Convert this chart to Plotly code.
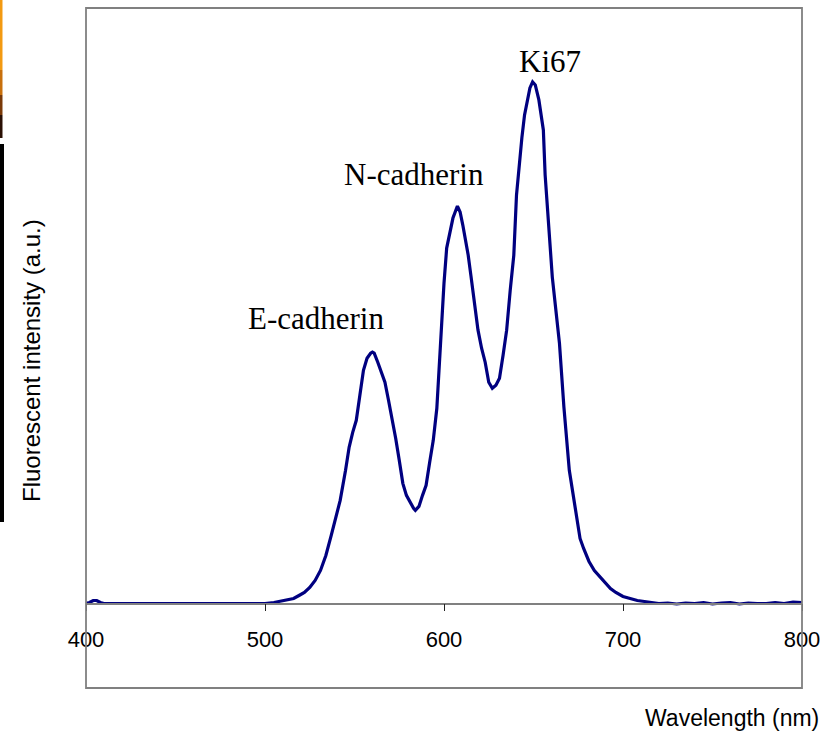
import plotly.graph_objects as go

# ---- data ----
wavelength = [400, 402, 404, 406, 408, 410, 420, 440, 460, 480, 500, 505, 508, 512, 516, 519,
              522, 525, 528, 531, 534, 537, 540, 542, 545, 547, 549, 551, 553, 555, 557, 559,
              560, 561, 563, 565, 567, 569, 571, 573, 575, 577, 579, 581, 583, 584, 586, 588,
              590, 592, 594, 596, 598, 600, 601.5, 603, 605, 607.5, 609, 610.5, 612, 613.5,
              615, 617, 619, 621, 623, 625, 627, 629, 631, 633, 635, 637, 639, 640.5, 642,
              643.5, 645, 646.5, 648, 649.5, 651, 653, 655.5, 656.5, 658, 660.5, 664.5, 667,
              670, 672.5, 676, 678, 681, 684, 687, 690, 693, 696, 700, 704, 708, 712, 716,
              720, 725, 730, 735, 740, 745, 750, 755, 760, 765, 770, 775, 780, 785, 790, 795, 800]
intensity = [0, 1, 3, 3, 1, 0, 0, 0, 0, 0, 0, 1, 2, 3, 5, 8,
             11, 16, 23, 33, 48, 68, 88, 103, 133, 156, 171, 183, 208, 233, 245, 250,
             251, 250, 241, 231, 221, 203, 185, 165, 143, 120, 108, 101, 95, 93, 97, 108,
             118, 141, 163, 195, 260, 320, 355, 368, 385, 397, 391, 378, 363, 348,
             328, 298, 273, 255, 241, 221, 215, 218, 225, 248, 273, 313, 348, 408, 438,
             465, 488, 503, 515, 521, 518, 503, 473, 428, 393, 326, 260, 196,
             133, 103, 65, 55, 42, 33, 27, 20, 15, 11, 7, 5, 3, 2, 1,
             0, 0.5, -0.5, 0.5, 0, 1, -0.5, 0.5, 1, -0.5, 0.5, 0, 0, 1, 0, 1.5, 1]

peak_labels = ["E-cadherin", "N-cadherin", "Ki67"]
peak_label_x = [528.6, 583.3, 659.2]
peak_label_y = [285, 429, 541]

x_ticks = [400, 500, 600, 700, 800]
x_range = [400, 800]
y_range = [-84.4, 594.8]

x_title = "Wavelength (nm)"
y_title = "Fluorescent intensity (a.u.)"

fig = go.Figure()
fig.add_trace(go.Scatter(
    x=wavelength, y=intensity, mode="lines",
    line=dict(color="#000080", width=3.2),
    hoverinfo="skip", showlegend=False,
))

axis_pos = -y_range[0] / (y_range[1] - y_range[0])

fig.update_layout(
    width=837, height=735, autosize=False,
    margin=dict(l=86, r=35, t=8, b=47, pad=0),
    paper_bgcolor="white", plot_bgcolor="white",
    showlegend=False,
    xaxis=dict(
        range=x_range, tickvals=x_ticks, ticktext=[str(v) for v in x_ticks],
        ticks="outside", ticklen=7, tickwidth=1, tickcolor="#222222",
        showline=True, linecolor="#808080", linewidth=1.5,
        showgrid=False, zeroline=False,
        anchor="free", position=axis_pos,
        tickfont=dict(family="Arial, Liberation Sans, sans-serif", size=22, color="black"),
        ticklabelstandoff=9,
    ),
    yaxis=dict(
        range=y_range, showticklabels=False, ticks="", showgrid=False,
        zeroline=False, showline=False,
    ),
)

# frame around plot area
fig.add_shape(type="rect", xref="paper", yref="paper", x0=0, x1=1, y0=0, y1=1,
              line=dict(color="#808080", width=1.8), fillcolor="rgba(0,0,0,0)", layer="above")

# left-edge artifact strips
def px_x(p):
    return (p - 86) / 716.0

def px_y(p):
    return (688 - p) / 680.0

strips = [
    (0, 2.5, 0, 70, "#F39A12"),
    (0, 2.5, 70, 95, "#C8700C"),
    (0, 2.5, 95, 115, "#7A3A08"),
    (0, 2.5, 115, 138, "#2A1004"),
    (0, 4, 144, 522, "#000000"),
]
for x0, x1, y0, y1, c in strips:
    fig.add_shape(type="rect", xref="paper", yref="paper",
                  x0=px_x(x0), x1=px_x(x1), y0=px_y(y1), y1=px_y(y0),
                  line=dict(width=0), fillcolor=c, layer="above")

for t, xv, yv in zip(peak_labels, peak_label_x, peak_label_y):
    fig.add_annotation(x=xv, y=yv, xref="x", yref="y", text=t, showarrow=False,
                       xanchor="center", yanchor="middle",
                       font=dict(family="Liberation Serif, Times New Roman, serif", size=31, color="black"))

fig.add_annotation(x=px_x(732), y=px_y(718), xref="paper", yref="paper", text=x_title,
                   showarrow=False, xanchor="center", yanchor="middle",
                   font=dict(family="Arial, Liberation Sans, sans-serif", size=23, color="black"))
fig.add_annotation(x=px_x(32), y=px_y(361), xref="paper", yref="paper", text=y_title,
                   showarrow=False, xanchor="center", yanchor="middle", textangle=-90,
                   font=dict(family="Arial, Liberation Sans, sans-serif", size=24, color="black"))

fig.write_html("out.html", config={"displayModeBar": False},
               post_script="document.body.style.margin='0';document.body.style.overflow='hidden';")
